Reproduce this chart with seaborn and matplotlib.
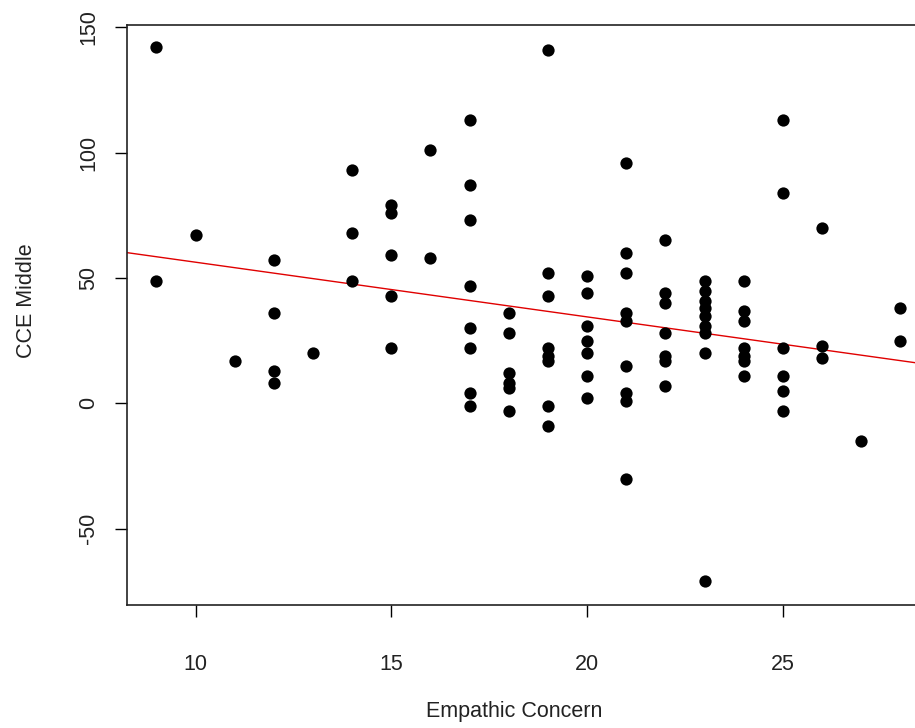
import numpy as np
import pandas as pd
import matplotlib
matplotlib.use("Agg")
import matplotlib.pyplot as plt
import seaborn as sns

# ── Data ───────────────────────────────────────────────────────────────────────

empathic = (
    [9, 9]
    + [10]
    + [11]
    + [12] * 4
    + [13]
    + [14] * 3
    + [15] * 5
    + [16] * 2
    + [17] * 8
    + [18] * 6
    + [19] * 8
    + [20] * 7
    + [21] * 9
    + [22] * 7
    + [23] * 9
    + [24] * 7
    + [25] * 6
    + [26] * 3
    + [27]
    + [28] * 2
)
cce_middle = (
    [142, 49]
    + [67]
    + [17]
    + [57, 36, 13, 8]
    + [20]
    + [93, 68, 49]
    + [79, 76, 59, 43, 22]
    + [101, 58]
    + [113, 87, 73, 47, 30, 22, 4, -1]
    + [36, 28, 12, 8, 6, -3]
    + [141, 52, 43, 22, 19, 17, -1, -9]
    + [51, 44, 31, 25, 20, 11, 2]
    + [96, 60, 52, 36, 33, 15, 4, 1, -30]
    + [65, 44, 40, 28, 19, 17, 7]
    + [49, 45, 41, 38, 35, 31, 28, 20, -71]
    + [49, 37, 33, 22, 19, 17, 11]
    + [113, 84, 22, 11, 5, -3]
    + [70, 23, 18]
    + [-15]
    + [38, 25]
)

# fitted line (abline)
fit_intercept = 78.1
fit_slope = -2.18

x_ticks = [10, 15, 20, 25]
y_ticks = [-50, 0, 50, 100, 150]

df = pd.DataFrame({"Empathic Concern": empathic, "CCE Middle": cce_middle})

# ── Setup ──────────────────────────────────────────────────────────────────────

sns.set_style("white")
plt.rcParams["font.family"] = ["Liberation Sans", "DejaVu Sans"]

W, H = 915, 728
fig = plt.figure(figsize=(W / 100, H / 100), dpi=100)
left, right, top, bottom = 126.7, 930, 25, 605
ax = fig.add_axes([left / W, 1 - bottom / H, (right - left) / W, (bottom - top) / H])

# ── Plot ───────────────────────────────────────────────────────────────────────

sns.scatterplot(data=df, x="Empathic Concern", y="CCE Middle", ax=ax,
                color="black", s=78, linewidth=0, zorder=3)
ax.axline((0, fit_intercept), slope=fit_slope, color="#e00000", lw=1.0, zorder=2)

ax.set_xlim(8.24, 28.76)
ax.set_ylim(-80.4, 150.9)
ax.set_xticks(x_ticks)
ax.set_yticks(y_ticks)
ax.set_yticklabels([str(v) for v in y_ticks], rotation=90, va="center")

ax.tick_params(axis="both", direction="out", length=8.6, width=1.0,
               color="black", labelsize=15.5, labelcolor="#222222",
               bottom=True, left=True)
ax.tick_params(axis="x", pad=27)
ax.tick_params(axis="y", pad=11)

for sp in ax.spines.values():
    sp.set_visible(True)
    sp.set_color("#222222")
    sp.set_linewidth(1.2)

ax.set_xlabel("Empathic Concern", fontsize=15.5, color="#222222")
ax.set_ylabel("CCE Middle", fontsize=15.5, color="#222222")
ax.xaxis.set_label_coords((514 - left) / (right - left), -(712 - bottom) / (bottom - top))
ax.yaxis.set_label_coords(-(left - 27) / (right - left), 1 - (301 - top) / (bottom - top))
ax.xaxis.label.set_va("center")
ax.yaxis.label.set_va("center")

fig.savefig("out.png", dpi=100)
plt.close(fig)
